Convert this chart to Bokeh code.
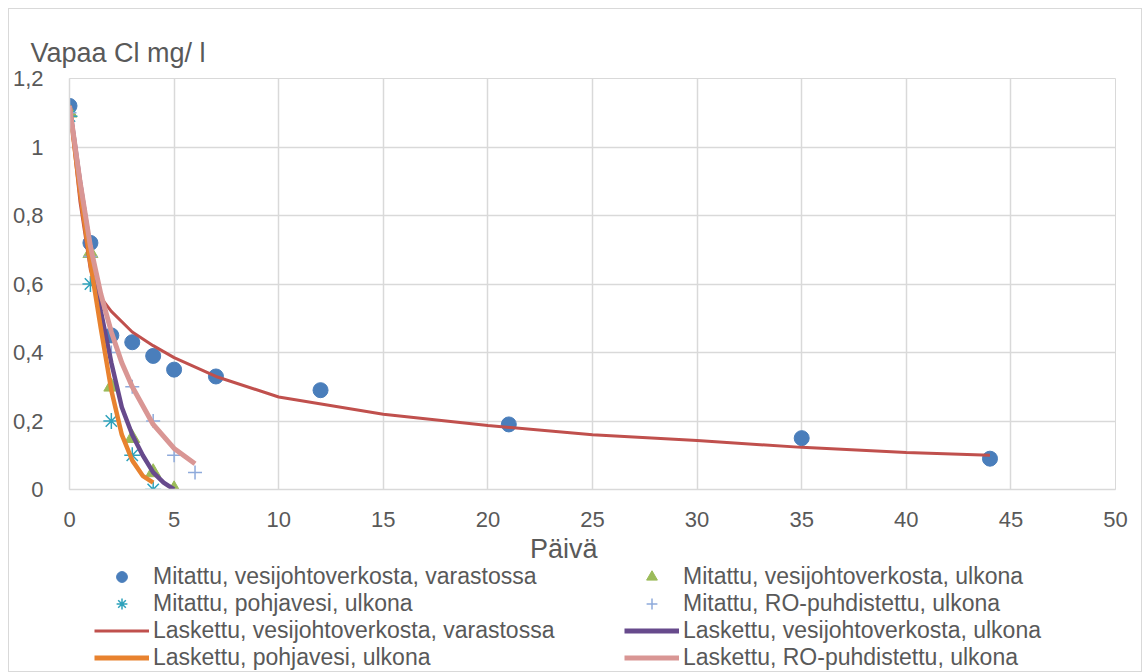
from bokeh.plotting import figure
from bokeh.models import (Legend, LegendItem, CustomJSTickFormatter, FixedTicker,
                          Range1d, Label)
from bokeh.layouts import column
from bokeh.embed import file_html
from bokeh.resources import INLINE

# ---- measured data ----
m_var_x = [0, 1, 2, 3, 4, 5, 7, 12, 21, 35, 44]
m_var_y = [1.12, 0.72, 0.45, 0.43, 0.39, 0.35, 0.33, 0.29, 0.19, 0.15, 0.09]

m_ulk_x = [0, 1, 2, 3, 4, 5]
m_ulk_y = [1.10, 0.69, 0.30, 0.15, 0.05, 0.0]

m_pohja_x = [0, 1, 2, 3, 4]
m_pohja_y = [1.09, 0.60, 0.20, 0.10, 0.0]

m_ro_x = [0, 1, 2, 3, 4, 5, 6]
m_ro_y = [1.10, 0.68, 0.40, 0.30, 0.20, 0.10, 0.05]

# ---- calculated curves ----
l_var_x = [0, 0.5, 1, 1.5, 2, 3, 4, 5, 7, 10, 15, 20, 25, 30, 35, 40, 44]
l_var_y = [1.12, 0.84, 0.64, 0.56, 0.52, 0.46, 0.42, 0.385, 0.33, 0.27, 0.22,
           0.187, 0.16, 0.143, 0.123, 0.108, 0.10]

l_ulk_x = [0, 0.5, 1, 1.5, 2, 2.5, 3, 3.5, 4, 4.5, 5]
l_ulk_y = [1.12, 0.90, 0.70, 0.52, 0.37, 0.24, 0.16, 0.10, 0.05, 0.02, 0.0]

l_pohja_x = [0, 0.5, 1, 1.5, 2, 2.5, 3, 3.5, 4]
l_pohja_y = [1.12, 0.87, 0.66, 0.47, 0.29, 0.16, 0.085, 0.04, 0.02]

l_ro_x = [0, 0.5, 1, 1.5, 2, 2.5, 3, 4, 5, 6]
l_ro_y = [1.12, 0.90, 0.71, 0.57, 0.46, 0.37, 0.30, 0.19, 0.12, 0.075]

x_ticks = [0, 5, 10, 15, 20, 25, 30, 35, 40, 45, 50]
y_ticks = [0, 0.2, 0.4, 0.6, 0.8, 1.0, 1.2]

labels = [
    "Mitattu, vesijohtoverkosta, varastossa",
    "Mitattu, vesijohtoverkosta, ulkona",
    "Mitattu, pohjavesi, ulkona",
    "Mitattu, RO-puhdistettu, ulkona",
    "Laskettu, vesijohtoverkosta, varastossa",
    "Laskettu, vesijohtoverkosta, ulkona",
    "Laskettu, pohjavesi, ulkona",
    "Laskettu, RO-puhdistettu, ulkona",
]

FONT = "Liberation Sans"
TXT = "#595959"
GRID = "#D9D9D9"

C_VAR = "#4A7EBB"
C_ULK = "#9BBB59"
C_POH = "#2EA2BC"
C_RO = "#8EAADB"
C_LVAR = "#C0504D"
C_LULK = "#674A8C"
C_LPOH = "#E8822F"
C_LRO = "#D99694"

W, H1, H2 = 1132, 523, 139

p = figure(width=W, height=H1, output_backend="svg", toolbar_location=None,
           x_range=Range1d(0, 50), y_range=Range1d(0, 1.2),
           min_border_left=58, min_border_right=26, min_border_top=69,
           min_border_bottom=43)
p.background_fill_color = "white"
p.border_fill_color = "white"
p.outline_line_color = GRID

p.title.text = "Vapaa Cl mg/ l"
p.title.text_font = FONT
p.title.text_font_size = "27px"
p.title.text_font_style = "normal"
p.title.text_color = TXT
p.title.align = "left"
p.title.offset = -39
p.title.standoff = 21

for ax in (p.xaxis[0], p.yaxis[0]):
    ax.axis_line_color = GRID
    ax.axis_line_width = 1.5
    ax.major_tick_line_color = None
    ax.minor_tick_line_color = None
    ax.major_label_text_font = FONT
    ax.major_label_text_font_size = "22px"
    ax.major_label_text_color = TXT

p.xaxis.ticker = FixedTicker(ticks=x_ticks)
p.yaxis.ticker = FixedTicker(ticks=y_ticks)
p.xaxis.major_label_standoff = 16
p.yaxis.major_label_standoff = 20
p.yaxis.formatter = CustomJSTickFormatter(
    code="return (Math.round(tick*10)/10).toString().replace('.', ',');")

p.grid.grid_line_color = GRID
p.grid.grid_line_width = 1.5

# measured markers (drawn first, lines on top as in the original)
p.scatter(m_var_x, m_var_y, marker="circle", size=15,
          fill_color=C_VAR, line_color=C_VAR)
p.scatter(m_ulk_x, m_ulk_y, marker="triangle", size=15,
          fill_color=C_ULK, line_color=C_ULK)
p.scatter(m_pohja_x, m_pohja_y, marker="asterisk", size=16,
          line_color=C_POH, line_width=1.5)
p.scatter(m_ro_x, m_ro_y, marker="cross", size=14,
          line_color=C_RO, line_width=1.5)

# calculated lines
p.line(l_var_x, l_var_y, line_color=C_LVAR, line_width=3)
p.line(l_ulk_x, l_ulk_y, line_color=C_LULK, line_width=4.5)
p.line(l_pohja_x, l_pohja_y, line_color=C_LPOH, line_width=4.5)
p.line(l_ro_x, l_ro_y, line_color=C_LRO, line_width=5)

# ---- lower panel: x-axis title and legend ----
p2 = figure(width=W, height=H2, output_backend="svg", toolbar_location=None,
            x_range=Range1d(0, W), y_range=Range1d(0, H2),
            min_border=0, x_axis_type=None, y_axis_type=None)
p2.grid.visible = False
p2.outline_line_color = None
p2.background_fill_color = "white"
p2.border_fill_color = "white"

# legend-only renderers (kept outside the visible range)
hx, hy = [-1000, -1001], [-1000, -1001]
g_var = p2.scatter(hx, hy, marker="circle", size=15, fill_color=C_VAR, line_color=C_VAR)
g_ulk = p2.scatter(hx, hy, marker="triangle", size=15, fill_color=C_ULK, line_color=C_ULK)
g_poh = p2.scatter(hx, hy, marker="asterisk", size=14, line_color=C_POH, line_width=1.5)
g_ro = p2.scatter(hx, hy, marker="cross", size=14, line_color=C_RO, line_width=1.5)
g_lvar = p2.line(hx, hy, line_color=C_LVAR, line_width=3)
g_lulk = p2.line(hx, hy, line_color=C_LULK, line_width=5)
g_lpoh = p2.line(hx, hy, line_color=C_LPOH, line_width=5)
g_lro = p2.line(hx, hy, line_color=C_LRO, line_width=5)


def make_legend(items, x):
    lg = Legend(items=items, location=(x, 0), orientation="vertical")
    lg.label_text_font = FONT
    lg.label_text_font_size = "23px"
    lg.label_text_color = TXT
    lg.glyph_width = 55
    lg.glyph_height = 27
    lg.label_height = 27
    lg.label_standoff = 4
    lg.spacing = 0
    lg.padding = 0
    lg.margin = 0
    lg.border_line_color = None
    lg.background_fill_alpha = 0
    return lg


leg1 = make_legend([
    LegendItem(label=labels[0], renderers=[g_var]),
    LegendItem(label=labels[2], renderers=[g_poh]),
    LegendItem(label=labels[4], renderers=[g_lvar]),
    LegendItem(label=labels[6], renderers=[g_lpoh]),
], 25)
leg2 = make_legend([
    LegendItem(label=labels[1], renderers=[g_ulk]),
    LegendItem(label=labels[3], renderers=[g_ro]),
    LegendItem(label=labels[5], renderers=[g_lulk]),
    LegendItem(label=labels[7], renderers=[g_lro]),
], 555)
p2.add_layout(leg1, "center")
p2.add_layout(leg2, "center")

xlab = Label(x=535, y=123, text="Päivä", text_font=FONT,
             text_font_size="27px", text_color=TXT, text_align="center",
             text_baseline="middle")
p2.add_layout(xlab)

layout = column(p, p2, spacing=0, margin=(8, 0, 0, 8),
                styles={"border": "1px solid #D9D9D9"})

open("out.html", "w").write(file_html(layout, INLINE))
